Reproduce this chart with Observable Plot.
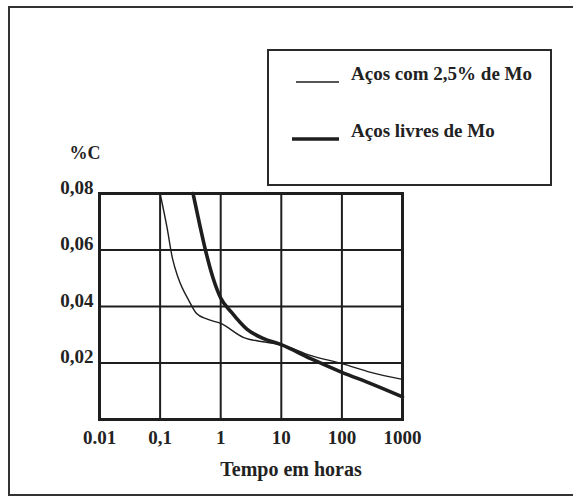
<!DOCTYPE html>
<html>
<head>
<meta charset="utf-8">
<script src="https://cdn.jsdelivr.net/npm/d3@7"></script>
<script src="https://cdn.jsdelivr.net/npm/@observablehq/plot@0.6"></script>
<style>
  html, body { margin: 0; padding: 0; background: #fff; overflow: hidden; }
  #wrap { position: relative; width: 573px; height: 499px; overflow: hidden; background: #fff; }
  #wrap > svg { position: absolute; left: 0; top: 0; }
  .edge { position: absolute; background: #333; }
  #legend { position: absolute; left: 267px; top: 49px; width: 281px; height: 133px;
            border: 2px solid #2a2a2a; background: #fff;
            font-family: "Liberation Serif", "Times New Roman", serif; font-weight: bold;
            font-size: 19px; color: #222; }
  .item { position: absolute; left: 0; height: 24px; width: 100%; }
  .item svg { position: absolute; left: 0; top: 0; }
  .item span { position: absolute; left: 82px; top: 0; line-height: 24px; white-space: nowrap; }
</style>
</head>
<body>
<div id="wrap">
  <div class="edge" style="left:8px;top:6px;width:565px;height:2px"></div>
  <div class="edge" style="left:8px;top:6px;width:2px;height:490px"></div>
  <div class="edge" style="left:8px;top:494px;width:565px;height:2px"></div>
</div>
<script>
// Carbon content (%C) versus time (hours), log time axis
const xTicks = [0.01, 0.1, 1, 10, 100, 1000];
const xTickLabels = ["0.01", "0,1", "1", "10", "100", "1000"];
const yTicks = [0.02, 0.04, 0.06, 0.08];

const seriesNames = ["Aços com 2,5% de Mo", "Aços livres de Mo"];
const seriesWidths = [1.4, 3.6];

// Steels with 2.5% Mo
const moHours  = [0.1, 0.13, 0.16, 0.2, 0.3, 0.4, 0.6, 1, 2.4, 5, 10, 30, 100, 300, 1000];
const moCarbon = [0.08, 0.068, 0.057, 0.05, 0.042, 0.0375, 0.0355, 0.034, 0.029, 0.0275, 0.0265, 0.0227, 0.0198, 0.0167, 0.0142];

// Mo-free steels
const freeHours  = [0.35, 0.45, 0.56, 0.75, 1, 1.5, 2.7, 5, 10, 30, 100, 300, 1000];
const freeCarbon = [0.08, 0.069, 0.06, 0.05, 0.043, 0.038, 0.032, 0.0287, 0.0265, 0.0216, 0.0167, 0.0127, 0.008];

const moData = moHours.map((h, i) => ({h, c: moCarbon[i]}));
const freeData = freeHours.map((h, i) => ({h, c: freeCarbon[i]}));

const ink = "#1e1e1e";
const serif = "Liberation Serif, Times New Roman, serif";

const chart = Plot.plot({
  width: 573,
  height: 499,
  marginLeft: 99,
  marginRight: 171,
  marginTop: 193,
  marginBottom: 80,
  style: {fontFamily: serif, fontSize: "19px", fontWeight: "bold", color: "#222", background: "transparent"},
  x: {type: "log", domain: [0.01, 1000], axis: null},
  y: {domain: [0, 0.08], axis: null},
  marks: [
    Plot.gridX(xTicks, {stroke: ink, strokeOpacity: 1, strokeWidth: 2}),
    Plot.gridY(yTicks, {stroke: ink, strokeOpacity: 1, strokeWidth: 2}),
    Plot.line(moData, {x: "h", y: "c", stroke: ink, strokeWidth: seriesWidths[0], curve: "monotone-x"}),
    Plot.line(freeData, {x: "h", y: "c", stroke: ink, strokeWidth: seriesWidths[1], curve: "monotone-x"}),
    Plot.frame({stroke: ink, strokeWidth: 3}),
    Plot.axisX(xTicks, {
      tickSize: 0, tickPadding: 11, label: null, fill: "#222",
      tickFormat: d => xTickLabels[xTicks.indexOf(d)]
    }),
    Plot.axisY(yTicks, {
      tickSize: 0, tickPadding: 6, label: null, fill: "#222", dy: -6,
      tickFormat: d => d.toFixed(2).replace(".", ",")
    }),
    Plot.text(["Tempo em horas"], {
      frameAnchor: "bottom", dx: 40, dy: 50, lineAnchor: "middle",
      text: d => d, fontSize: 20, fill: "#222"
    }),
    Plot.text(["%C"], {
      frameAnchor: "top-left", dx: -30, dy: -40, textAnchor: "start", lineAnchor: "middle",
      text: d => d, fontSize: 18, fill: "#222"
    })
  ]
});

const wrap = document.getElementById("wrap");
wrap.appendChild(chart);

// Legend box with line samples
const legend = document.createElement("div");
legend.id = "legend";
const rowTops = [11, 68];
const sampleX = [[27, 70], [23, 70]];
seriesNames.forEach((name, i) => {
  const row = document.createElement("div");
  row.className = "item";
  row.style.top = rowTops[i] + "px";
  const y = 20;
  row.innerHTML =
    `<svg width="80" height="24"><line x1="${sampleX[i][0]}" x2="${sampleX[i][1]}" y1="${y}" y2="${y}" stroke="${ink}" stroke-width="${seriesWidths[i]}"/></svg>` +
    `<span>${name}</span>`;
  legend.appendChild(row);
});
wrap.appendChild(legend);
</script>
</body>
</html>
